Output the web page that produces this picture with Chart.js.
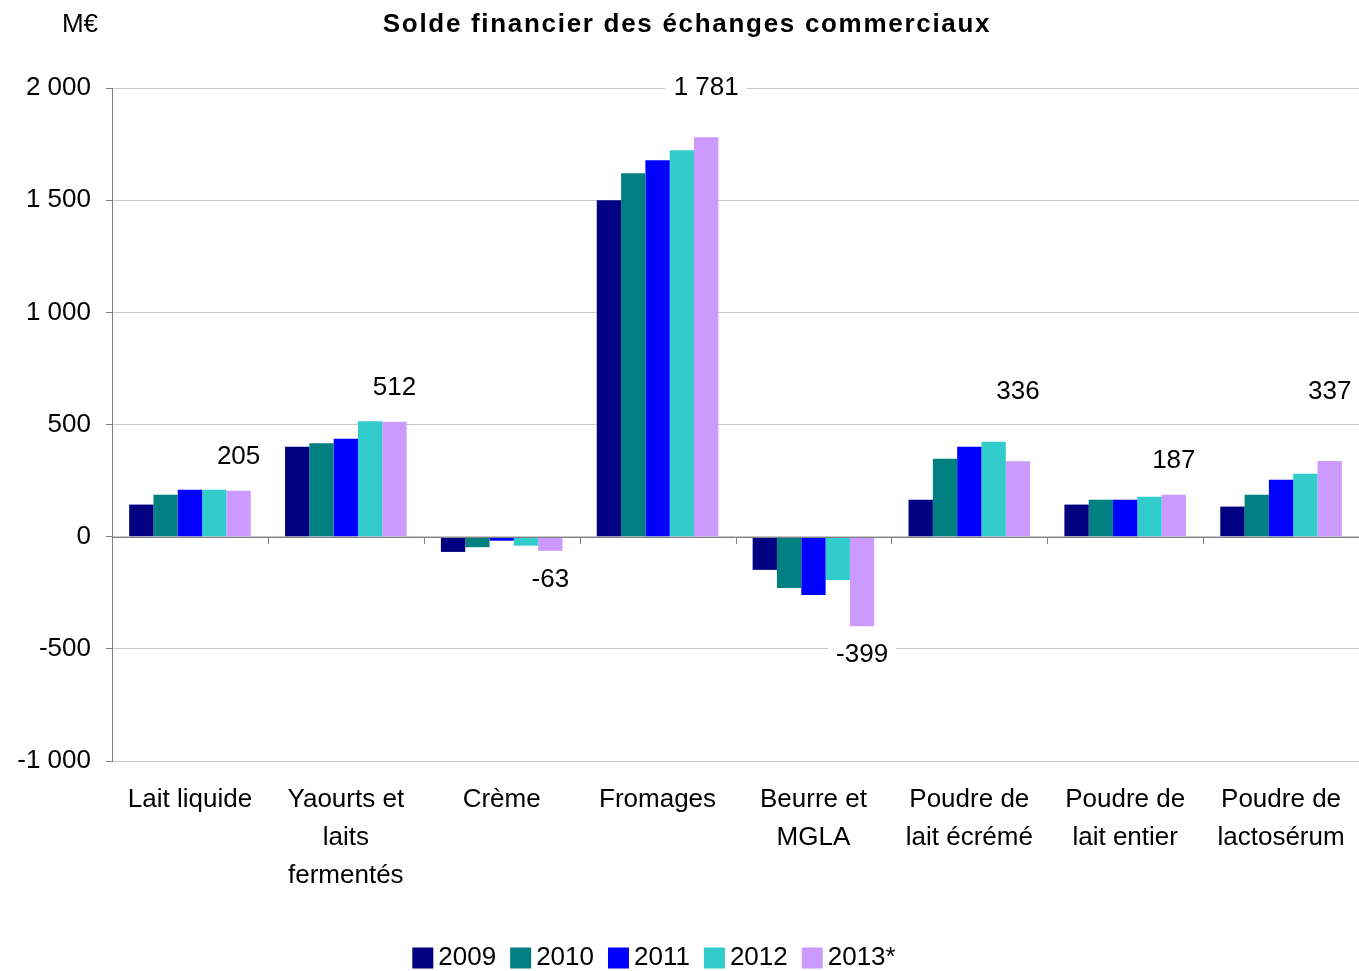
<!DOCTYPE html>
<html>
<head>
<meta charset="utf-8">
<script src="https://cdn.jsdelivr.net/npm/chart.js@4.4.1/dist/chart.umd.min.js"></script>
<style>
    html, body { margin: 0; padding: 0; background: #fff; }
    #wrap { width: 1359px; height: 971px; position: relative; }
</style>
</head>
<body>
<div id="wrap"><canvas id="soldeChart"></canvas></div>
<script>
const categories = [
    'Lait liquide',
    ['Yaourts et', 'laits', 'fermentés'],
    'Crème',
    'Fromages',
    ['Beurre et', 'MGLA'],
    ['Poudre de', 'lait écrémé'],
    ['Poudre de', 'lait entier'],
    ['Poudre de', 'lactosérum']
];
const years = ['2009', '2010', '2011', '2012', '2013*'];
const values2009 = [143, 401, -68, 1500, -148, 165, 143, 134];
const values2010 = [187, 416, -47, 1620, -229, 347, 165, 187];
const values2011 = [209, 437, -18, 1678, -260, 401, 165, 254];
const values2012 = [209, 515, -40, 1723, -193, 423, 178, 281];
const values2013 = [205, 512, -63, 1781, -399, 336, 187, 337];
const yTicks = [-1000, -500, 0, 500, 1000, 1500, 2000];

const colors = ['#000080', '#008080', '#0000ff', '#33cccc', '#cc99ff'];
const FONT = "'Liberation Sans', Arial, sans-serif";

function fmt(v) {
    const s = Math.abs(Math.round(v)).toString().replace(/\B(?=(\d{3})+(?!\d))/g, ' ');
    return (v < 0 ? '-' : '') + s;
}

// title, unit, legend, 2013 labels and the zero axis with its tick marks
const decorPlugin = {
    id: 'decor',
    afterDatasetsDraw(chart, args, opts) {
        const ctx = chart.ctx;
        const y = chart.scales.y;
        const area = chart.chartArea;
        const y0 = y.getPixelForValue(0);

        ctx.save();
        // zero line
        ctx.strokeStyle = '#808080';
        ctx.lineWidth = 1;
        ctx.beginPath();
        ctx.moveTo(area.left, Math.round(y0) + 0.5);
        ctx.lineTo(area.right, Math.round(y0) + 0.5);
        const step = (area.right - area.left) / categories.length;
        for (let i = 0; i <= categories.length; i++) {
            const px = Math.round(area.left + i * step) + 0.5;
            ctx.moveTo(px, Math.round(y0));
            ctx.lineTo(px, Math.round(y0) + 7);
        }
        ctx.stroke();

        // value labels of the last series
        const meta = chart.getDatasetMeta(4);
        ctx.font = '26px ' + FONT;
        ctx.textAlign = 'center';
        ctx.textBaseline = 'middle';
        meta.data.forEach((bar, i) => {
            const v = values2013[i];
            const lift = opts.lift[i];
            const ly = v >= 0 ? bar.y - lift : bar.y + lift;
            const text = fmt(v);
            const w = ctx.measureText(text).width;
            ctx.fillStyle = '#ffffff';
            ctx.fillRect(bar.x - w / 2 - 8, ly - 12, w + 16, 24);
            ctx.fillStyle = '#000000';
            ctx.fillText(text, bar.x, ly);
        });

        // legend
        const box = 21, gap = 5, space = 14;
        const sets = chart.data.datasets;
        const widths = sets.map(ds => box + gap + ctx.measureText(ds.label).width);
        const total = widths.reduce((a, b) => a + b, 0) + space * (sets.length - 1);
        let lx = opts.legendCenter - total / 2;
        ctx.textAlign = 'left';
        sets.forEach((ds, i) => {
            ctx.fillStyle = ds.backgroundColor;
            ctx.fillRect(lx, opts.legendY - box / 2, box, box);
            ctx.fillStyle = '#000000';
            ctx.fillText(ds.label, lx + box + gap, opts.legendY);
            lx += widths[i] + space;
        });

        // title and unit
        ctx.textAlign = 'center';
        ctx.fillStyle = '#000000';
        ctx.font = 'bold 26px ' + FONT;
        ctx.letterSpacing = '1.7px';
        ctx.fillText('Solde financier des échanges commerciaux', 687, 25);
        ctx.letterSpacing = '0px';
        ctx.font = '26px ' + FONT;
        ctx.fillText('M€', 80, 25);
        ctx.restore();
    }
};

const ctx = document.getElementById('soldeChart').getContext('2d');
const chart = new Chart(ctx, {
    type: 'bar',
    data: {
        labels: categories,
        datasets: [values2009, values2010, values2011, values2012, values2013].map((d, i) => ({
            label: years[i],
            data: d,
            backgroundColor: colors[i],
            borderWidth: 0,
            barPercentage: 1.0,
            categoryPercentage: 0.78
        }))
    },
    options: {
        responsive: true,
        maintainAspectRatio: false,
        animation: false,
        layout: {
            padding: { top: 88, right: 0, bottom: 50, left: 0 }
        },
        plugins: {
            title: { display: false },
            tooltip: { enabled: false },
            legend: { display: false },
            decor: {
                lift: [34, 34, 29, 49, 29, 69, 34, 69],
                legendCenter: 654,
                legendY: 958
            }
        },
        scales: {
            x: {
                grid: { display: false },
                border: { display: false },
                ticks: {
                    color: '#000000',
                    padding: 12,
                    maxRotation: 0,
                    autoSkip: false,
                    font: { family: FONT, size: 26, lineHeight: 1.46 }
                },
                afterFit(scale) {
                    scale.height = 160;
                    scale.paddingLeft = 0;
                    scale.paddingRight = 0;
                }
            },
            y: {
                min: -1000,
                max: 2000,
                afterBuildTicks(scale) {
                    scale.ticks = yTicks.map(v => ({ value: v }));
                },
                afterFit(scale) { scale.width = 112; },
                grid: {
                    color: '#c8c8c8',
                    tickColor: '#808080',
                    tickLength: 6
                },
                border: { color: '#808080' },
                ticks: {
                    color: '#000000',
                    padding: 15,
                    font: { family: FONT, size: 26 },
                    callback: v => fmt(v)
                }
            }
        }
    },
    plugins: [decorPlugin]
});
</script>
</body>
</html>
